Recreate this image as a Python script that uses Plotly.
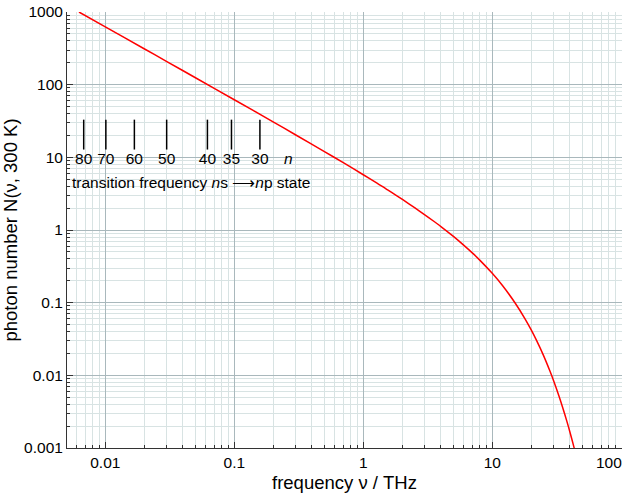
import plotly.graph_objects as go

# Photon number curve (frequency in THz, N)
freq_thz = [0.00625, 0.01, 0.02, 0.03, 0.05, 0.1, 0.2, 0.3, 0.5, 0.7, 1, 1.25, 1.5, 1.75, 2, 2.5, 3,
            3.5, 4, 5, 6, 7, 8, 10, 12, 15, 18, 20, 22, 25, 28, 30, 33, 35, 38, 40, 43, 45]
photon_n = [1000, 625, 312, 208, 124.5, 62, 30.8, 20.3, 12.0, 8.44, 5.76, 4.53, 3.69, 3.10, 2.65,
            2.03, 1.62, 1.33, 1.115, 0.816, 0.620, 0.485, 0.385, 0.253, 0.172, 0.0998, 0.0595,
            0.0425, 0.0305, 0.0187, 0.01146, 0.0083, 0.00512, 0.0037, 0.00229, 0.00166, 0.00103,
            0.00075]

# ns -> np transition frequencies marked on the chart
n_labels = ["80", "70", "60", "50", "40", "35", "30"]
n_freqs = [0.0068, 0.0101, 0.0168, 0.0299, 0.0619, 0.0951, 0.158]

x_major = [0.01, 0.1, 1, 10, 100]
x_major_text = ["0.01", "0.1", "1", "10", ""]
last_x_label = "100"
y_major = [0.001, 0.01, 0.1, 1, 10, 100, 1000]
y_major_text = ["0.001", "0.01", "0.1", "1", "10", "100", "1000"]

FONT = "Liberation Sans, Arial, sans-serif"

def minor_vals(lo_exp, hi_exp):
    out = []
    for e in range(lo_exp, hi_exp + 1):
        for m in range(2, 10):
            out.append(m * 10.0 ** e)
    return out

fig = go.Figure()

fig.add_trace(go.Scatter(x=freq_thz, y=photon_n, mode="lines",
                         line=dict(color="#ff0000", width=1.5, shape="spline", smoothing=0.8),
                         hoverinfo="skip", showlegend=False))

# tick marks for transitions
seg_x, seg_y = [], []
for f in n_freqs:
    seg_x += [f, f, None]
    seg_y += [12.8, 33, None]
fig.add_trace(go.Scatter(x=seg_x, y=seg_y, mode="lines",
                         line=dict(color="black", width=1.5), showlegend=False,
                         hoverinfo="skip"))

fig.add_trace(go.Scatter(x=n_freqs + [0.262], y=[9.2] * (len(n_freqs) + 1), mode="text",
                         text=n_labels + ["<i>n</i>"],
                         textfont=dict(family=FONT, size=15.5, color="black"),
                         showlegend=False, hoverinfo="skip"))

fig.add_annotation(x=-2.27, y=0.648, xref="x", yref="y", xanchor="left", yanchor="middle",
                   text="transition frequency <i>n</i>s \u27f6<i>n</i>p state",
                   showarrow=False, font=dict(family=FONT, size=15.5, color="black"))

# last x tick label, right-aligned so it stays inside the page
fig.add_annotation(x=2, y=0, xref="x", yref="paper", xanchor="right", yanchor="top",
                   xshift=3, yshift=-4, text=last_x_label, showarrow=False,
                   font=dict(family=FONT, size=15.5, color="black"))

major_grid = "#a9b8bc"
minor_grid = "#d8e3e3"

fig.update_xaxes(type="log", range=[-2.297, 2.006],
                 tickmode="array", tickvals=x_major, ticktext=x_major_text,
                 ticks="inside", ticklen=6, tickcolor="#333333", tickwidth=1,
                 showgrid=True, gridcolor=major_grid, gridwidth=1,
                 showline=True, linecolor="#333333", linewidth=1, mirror=False,
                 zeroline=False,
                 minor=dict(tickmode="array", tickvals=minor_vals(-3, 2), ticks="inside",
                            ticklen=3, tickcolor="#333333", showgrid=True,
                            gridcolor=minor_grid, gridwidth=1),
                 tickfont=dict(family=FONT, size=15.5, color="black"),
                 title=dict(text="frequency \u03bd / THz", font=dict(family=FONT, size=18.5, color="black"),
                            standoff=6))
fig.update_yaxes(type="log", range=[-3, 3],
                 tickmode="array", tickvals=y_major, ticktext=y_major_text,
                 ticks="inside", ticklen=6, tickcolor="#333333", tickwidth=1,
                 showgrid=True, gridcolor=major_grid, gridwidth=1,
                 showline=True, linecolor="#333333", linewidth=1, mirror=False,
                 zeroline=False,
                 minor=dict(tickmode="array", tickvals=minor_vals(-3, 2), ticks="inside",
                            ticklen=3, tickcolor="#333333", showgrid=True,
                            gridcolor=minor_grid, gridwidth=1),
                 tickfont=dict(family=FONT, size=15.5, color="black"),
                 title=dict(text="photon number N(\u03bd, 300 K)", font=dict(family=FONT, size=18.5, color="black"),
                            standoff=4))

fig.update_layout(width=626, height=498, margin=dict(l=67, r=4, t=12, b=50),
                  paper_bgcolor="white", plot_bgcolor="white", showlegend=False,
                  font=dict(family=FONT))

fig.write_html("out.html")
